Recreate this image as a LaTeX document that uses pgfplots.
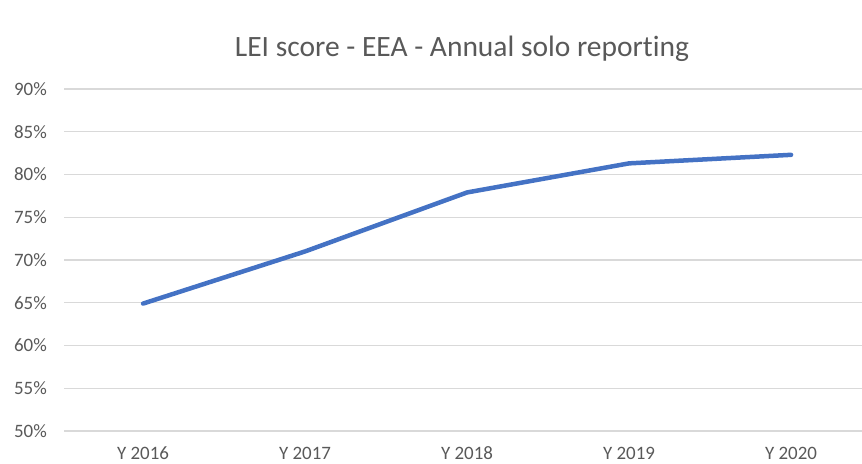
\documentclass[border=0pt]{standalone}
\usepackage{fontspec}
\setmainfont[Ligatures=NoCommon]{Carlito}
\usepackage{pgfplots}
\pgfplotsset{compat=1.18}
\definecolor{lineblue}{HTML}{4472C4}
\definecolor{gridgray}{HTML}{D9D9D9}
\definecolor{textgray}{HTML}{595959}
\begin{document}
\begin{tikzpicture}[x=1bp,y=1bp]
\path[use as bounding box] (0,0) rectangle (862,464);
\begin{axis}[
  at={(64bp,33bp)}, anchor=south west,
  scale only axis, width=798bp, height=342bp,
  xmin=-0.488, xmax=4.438, ymin=50, ymax=90,
  xtick={0,1,2,3,4},
  xticklabels={Y 2016, Y 2017, Y 2018, Y 2019, Y 2020},
  ytick={50,55,60,65,70,75,80,85,90},
  yticklabel={\pgfmathprintnumber{\tick}\%},
  axis line style={draw=none},
  tick style={draw=none},
  major tick length=0pt,
  ymajorgrids,
  grid style={gridgray, line width=1.2bp},
  /pgf/number format/assume math mode=true,
  tick label style={font=\fontsize{19}{21}\selectfont, text=textgray},
  yticklabel style={anchor=east, inner sep=0pt, xshift=-17bp},
  xticklabel style={anchor=base, inner sep=0pt, yshift=-28.5bp},
  clip=false,
]
\addplot[lineblue, line width=4.5bp, line cap=round, line join=round, mark=none]
  coordinates {(0,64.9) (1,71.0) (2,77.9) (3,81.3) (4,82.3)};
\end{axis}
\node[anchor=base, inner sep=0pt, text=textgray, font=\fontsize{29.6}{34}\selectfont]
  at (462,407) {LEI score - EEA - Annual solo reporting};
\end{tikzpicture}
\end{document}
